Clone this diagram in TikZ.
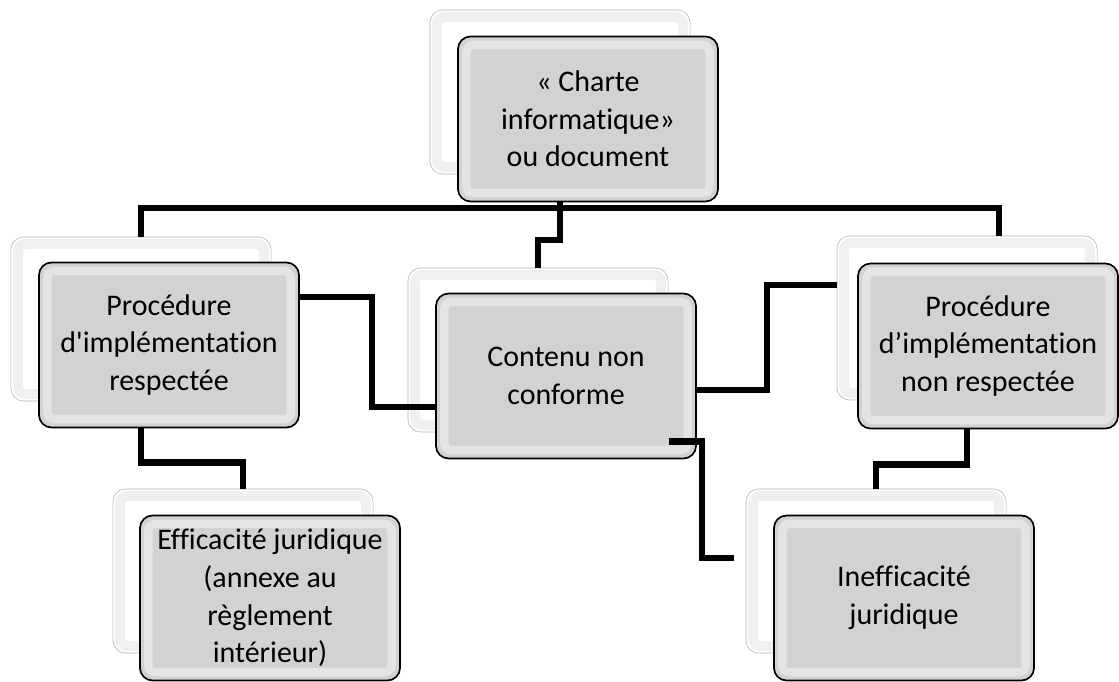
\documentclass[tikz,border=0pt]{standalone}
\usepackage{fontspec}
\setmainfont{Carlito}[Ligatures={TeXOff,NoCommon}]
\usetikzlibrary{calc}
\definecolor{BoxGray}{RGB}{210,210,210}
\definecolor{EdgeGray}{RGB}{175,175,175}
\definecolor{BevelGray}{RGB}{240,240,240}

\begin{document}
\begin{tikzpicture}[x=0.025cm,y=-0.025cm,
          bb/.style={draw=EdgeGray,fill=white,rounded corners=9pt,
                     minimum width=6.5cm,minimum height=4.1cm,
                     path picture={\draw[BevelGray,line width=7pt,rounded corners=5pt]
                       ($(path picture bounding box.north west)+(5pt,-5pt)$) rectangle
                       ($(path picture bounding box.south east)+(-5pt,5pt)$);}},
          fb/.style={draw=black,line width=1.2pt,fill=BoxGray,rounded corners=9pt,
                     minimum width=6.5cm,minimum height=4.125cm,align=center,
                     font=\fontsize{21.3}{26.8}\selectfont,text=black,
                     path picture={\draw[white,opacity=.4,line width=6pt,rounded corners=5pt]
                       ($(path picture bounding box.north west)+(6pt,-6pt)$) rectangle
                       ($(path picture bounding box.south east)+(-6pt,6pt)$);}},
          ln/.style={line width=4.5pt}
        ]
          \useasboundingbox (0,0) rectangle (1119,682);

          % back plates
          \node(charte-b)[bb] at (560,92){};
          \node(procok-b)[bb] at (141,319){};
          \node(contenu-b)[bb] at (538,350){};
          \node(procko-b)[bb] at (967,318){};
          \node(eff-b)[bb] at (243,571){};
          \node(ineff-b)[bb] at (876,571){};

          % front boxes
          \node(charte)[fb] at (588,119){« Charte\\informatique»\\ou document};
          \node(procok)[fb] at (169,345){Procédure\\d'implémentation\\respectée};
          \node(contenu)[fb] at (566,376){Contenu non\\conforme};
          \node(procko)[fb] at (988,346){Procédure\\d’implémentation\\non respectée};
          \node(eff)[fb] at (270,598){Efficacité juridique\\(annexe au\\règlement\\intérieur)};
          \node(ineff)[fb] at (904,598){Inefficacité\\juridique};

          \coordinate(hub) at (560,208);

          \draw[ln] (charte.south -| charte-b) -- (hub);
          \draw[ln] (procok-b.north) |- (hub) -| ([xshift=0.8cm]procko-b.north);
          \draw[ln] (hub) -- ++(0,32) -| (contenu-b.north);
          \draw[ln] ([yshift=1.2cm]procok.east) -- ++(72,0) |- ([yshift=-0.775cm]contenu.west);
          \draw[ln] ([yshift=-0.35cm]contenu.east) -- ++(70,0) |- ([yshift=0.825cm]procko-b.west);
          \draw[ln] ([shift={(-0.7cm,0.45cm)}]contenu.south east) -- ++(33,0) |- ([shift={(-0.3cm,0.32cm)}]ineff-b.west);
          \draw[ln] (procok.south -| procok-b) -- ++(0,34) -| (eff-b.north);
          \draw[ln] (procko.south -| procko-b) -- ++(0,35) -| (ineff-b.north);
        \end{tikzpicture}
\end{document}
